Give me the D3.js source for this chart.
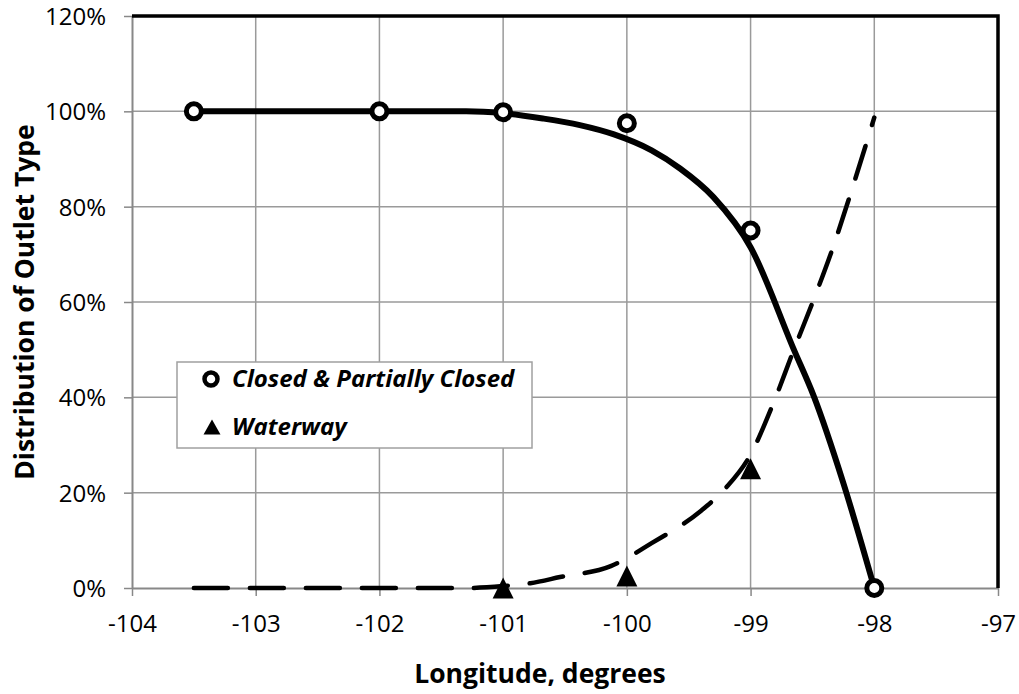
<!DOCTYPE html>
<html>
<head>
<meta charset="utf-8">
<script src="https://cdn.jsdelivr.net/npm/d3@7"></script>
<style>
  html, body { margin: 0; padding: 0; background: #fff; }
  svg { display: block; }
  text { font-family: "Open Sans", Lato, sans-serif; fill: #000; }
</style>
</head>
<body>
<svg id="chart" width="1019" height="694"></svg>
<script>
// ---- data ----
const closedX = [-103.5, -102, -101, -100, -99, -98];
const closedY = [100, 100, 99.8, 97.5, 75, 0];
const waterX = [-101, -100, -99];
const waterY = [0, 2.5, 25];

// fitted curves drawn on the chart
const closedCurveX = [-103.5, -102, -101.3, -101, -100.68, -100.38, -100.11, -99.8, -99.57, -99.3, -99, -98.65, -98.49, -98.25, -98];
const closedCurveY = [100, 100, 100, 99.6, 98.5, 97.1, 95.2, 91.8, 88, 82, 71.5, 50, 40.3, 22, 0];
const waterCurveX = [-103.5, -102, -101.3, -101, -100.78, -100.54, -100.13, -99.8, -99.41, -99.2, -99, -98.82, -98.65, -98.49, -98.34, -98.17, -98];
const waterCurveY = [0, 0, 0, 0.4, 1, 2.3, 4.6, 9.4, 16, 21, 28, 38.5, 50, 60.5, 71, 84.5, 98.7];

const xTicks = [-104, -103, -102, -101, -100, -99, -98, -97];
const yTicks = [0, 20, 40, 60, 80, 100, 120];
const seriesNames = ["Closed & Partially Closed", "Waterway"];
const xTitle = "Longitude, degrees";
const yTitle = "Distribution of Outlet Type";

// ---- layout ----
const pLeft = 132, pRight = 998, pTop = 16, pBottom = 588;
const svg = d3.select("#chart");

const x = d3.scaleLinear().domain([-104, -97]).range([pLeft, pRight]);
const y = d3.scaleLinear().domain([0, 120]).range([pBottom, pTop]);

const gridColor = "#9a9a9a";

// gridlines
svg.append("g").selectAll("line").data(xTicks.slice(1, -1)).join("line")
  .attr("x1", d => x(d)).attr("x2", d => x(d))
  .attr("y1", pTop).attr("y2", pBottom)
  .attr("stroke", gridColor).attr("stroke-width", 1.5);
svg.append("g").selectAll("line").data(yTicks.slice(1)).join("line")
  .attr("x1", pLeft).attr("x2", pRight)
  .attr("y1", d => y(d)).attr("y2", d => y(d))
  .attr("stroke", gridColor).attr("stroke-width", 1.5);

// axes
const xAxis = svg.append("g").attr("transform", `translate(0,${pBottom})`)
  .call(d3.axisBottom(x).tickValues(xTicks).tickFormat(d => String(d)).tickSize(8).tickSizeOuter(0).tickPadding(19));
const yAxis = svg.append("g").attr("transform", `translate(${pLeft},0)`)
  .call(d3.axisLeft(y).tickValues(yTicks).tickFormat(d => d + "%").tickSize(8).tickSizeOuter(0).tickPadding(18));
[xAxis, yAxis].forEach(g => {
  g.select(".domain").attr("stroke", "#888").attr("stroke-width", 2);
  g.selectAll(".tick line").attr("stroke", "#888").attr("stroke-width", 1.5);
  g.selectAll(".tick text").attr("font-size", 24).attr("font-family", "'Open Sans', Lato, sans-serif").attr("fill", "#000");
});
yAxis.selectAll(".tick text").attr("dy", "0.36em");

// top & right black border
svg.append("path")
  .attr("d", `M${pLeft},${pTop}H${pRight}V${pBottom}`)
  .attr("fill", "none").attr("stroke", "#000").attr("stroke-width", 3.5);

// curves
const line = d3.line().x(d => x(d[0])).y(d => y(d[1])).curve(d3.curveMonotoneX);
svg.append("path")
  .datum(waterCurveX.map((v, i) => [v, waterCurveY[i]]))
  .attr("d", line).attr("fill", "none").attr("stroke", "#000")
  .attr("stroke-width", 4.5).attr("stroke-dasharray", "34,22").attr("stroke-linecap", "round");
svg.append("path")
  .datum(closedCurveX.map((v, i) => [v, closedCurveY[i]]))
  .attr("d", line).attr("fill", "none").attr("stroke", "#000")
  .attr("stroke-width", 6).attr("stroke-linejoin", "round");

// markers
svg.append("g").selectAll("circle").data(closedX.map((v, i) => [v, closedY[i]])).join("circle")
  .attr("cx", d => x(d[0])).attr("cy", d => y(d[1])).attr("r", 7.5)
  .attr("fill", "#fff").attr("stroke", "#000").attr("stroke-width", 5);
const triPath = (w, h) => `M0,${-h / 2}L${w / 2},${h / 2}L${-w / 2},${h / 2}Z`;
svg.append("g").selectAll("path").data(waterX.map((v, i) => [v, waterY[i]])).join("path")
  .attr("d", triPath(21, 21)).attr("transform", d => `translate(${x(d[0])},${y(d[1])})`)
  .attr("fill", "#000");

// legend
const lg = svg.append("g");
lg.append("rect").attr("x", 177).attr("y", 362).attr("width", 355).attr("height", 86)
  .attr("fill", "#fff").attr("stroke", "#a0a0a0").attr("stroke-width", 1.5);
lg.append("circle").attr("cx", 211).attr("cy", 379).attr("r", 6.5)
  .attr("fill", "#fff").attr("stroke", "#000").attr("stroke-width", 4.5);
lg.append("path").attr("d", triPath(17, 15))
  .attr("transform", "translate(212,427)").attr("fill", "#000");
lg.selectAll("text").data(seriesNames).join("text")
  .attr("x", 232).attr("y", (d, i) => 387 + i * 48)
  .attr("font-size", 24).attr("font-weight", "bold").attr("font-style", "italic")
  .text(d => d);

// axis titles
svg.append("text").attr("x", 540).attr("y", 683)
  .attr("text-anchor", "middle").attr("font-size", 26.5).attr("font-weight", "bold")
  .text(xTitle);
svg.append("text").attr("transform", `translate(34,${(pTop + pBottom) / 2}) rotate(-90)`)
  .attr("text-anchor", "middle").attr("font-size", 26.5).attr("font-weight", "bold")
  .text(yTitle);
</script>
</body>
</html>
